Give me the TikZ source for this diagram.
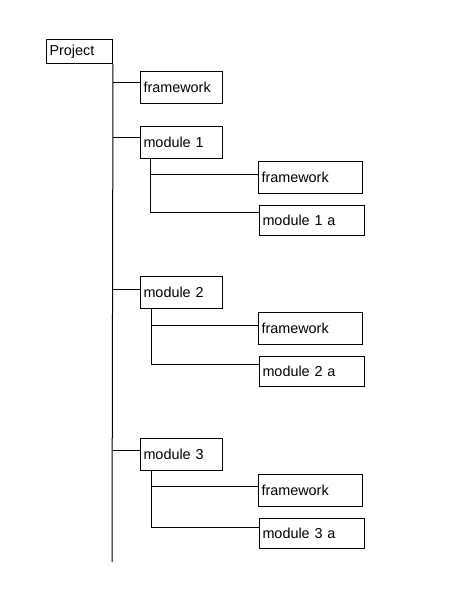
\documentclass[tikz,border=0pt]{standalone}
\usepackage{fontspec}
\setmainfont{Liberation Sans}
\begin{document}
\begin{tikzpicture}[x=1pt,y=1pt,line width=1pt,
  bx/.style={draw, rectangle, anchor=north west, inner xsep=3pt, inner ysep=0pt,
    align=left, font=\fontsize{14.4}{17}\selectfont},
  pbox/.style={bx, text width=60pt, minimum height=24pt},
  mbox/.style={bx, text width=76pt, minimum height=32pt},
  sbox/.style={bx, text width=98pt, minimum height=32pt},
  abox/.style={bx, text width=99pt, minimum height=30pt}]
\useasboundingbox (0,0) rectangle (474,-589);
% nodes
\node[pbox] (proj) at (46,-39) {Project};
\node[mbox] (fw0) at (140,-71) {framework};
\node[mbox] (m1) at (140,-126) {module 1};
\node[sbox] (f1) at (258,-161) {framework};
\node[abox] (a1) at (259,-205) {module 1 a};
\node[mbox] (m2) at (140,-276) {module 2};
\node[sbox] (f2) at (258,-312) {framework};
\node[abox] (a2) at (259,-356) {module 2 a};
\node[mbox] (m3) at (140,-438) {module 3};
\node[sbox] (f3) at (258,-474) {framework};
\node[abox] (a3) at (259,-518) {module 3 a};
\coordinate (mainend) at (112,-562);
\coordinate (s1) at ([xshift=10.5pt]m1.south west);
\coordinate (s2) at ([xshift=11pt]m2.south west);
\coordinate (s3) at ([xshift=11pt]m3.south west);
% main trunk
\draw (proj.south east) -- (mainend);
\draw ([yshift=-11pt]fw0.north west) -- ([yshift=-11pt]fw0.north west -| proj.east);
\draw ([yshift=-11pt]m1.north west) -- ([yshift=-11pt]m1.north west -| proj.east);
\draw ([yshift=-13pt]m2.north west) -- ([yshift=-13pt]m2.north west -| proj.east);
\draw ([yshift=-12pt]m3.north west) -- ([yshift=-12pt]m3.north west -| proj.east);
% sub trees
\draw ([yshift=-13pt]f1.north west) -| (s1);
\draw ([yshift=-7pt]a1.north west) -| (s1);
\draw ([yshift=-13pt]f2.north west) -| (s2);
\draw ([yshift=-8pt]a2.north west) -| (s2);
\draw ([yshift=-12pt]f3.north west) -| (s3);
\draw ([yshift=-9pt]a3.north west) -| (s3);
\end{tikzpicture}
\end{document}
